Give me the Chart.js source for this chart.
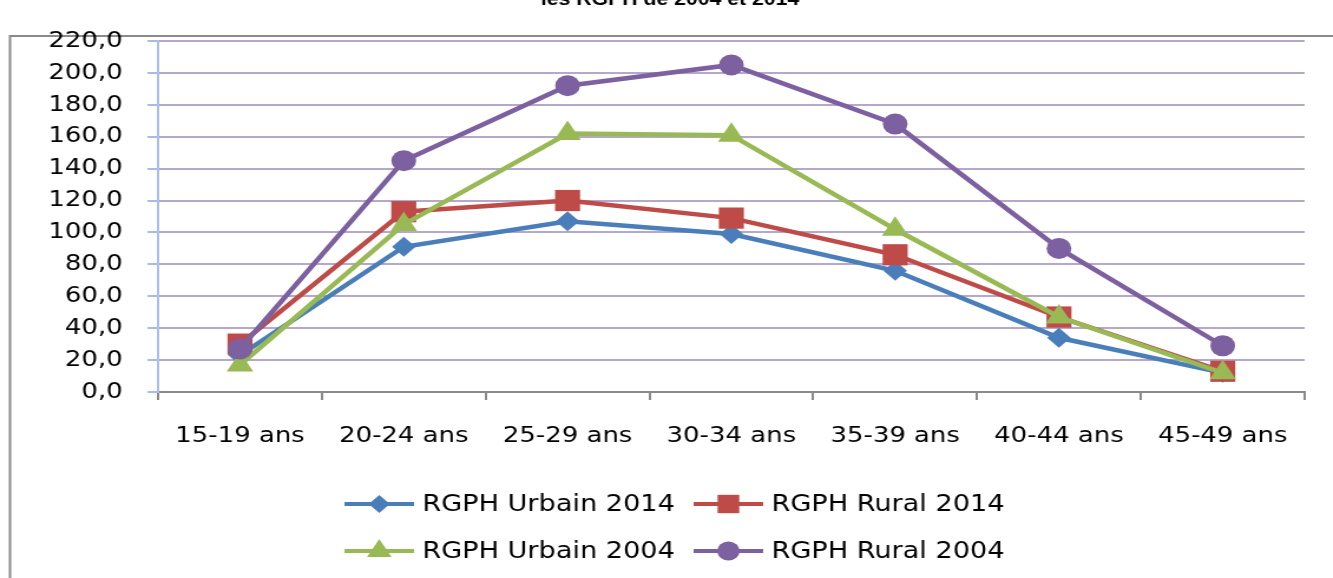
<!DOCTYPE html>
<html>
<head>
<meta charset="utf-8">
<script src="https://cdn.jsdelivr.net/npm/chart.js@4/dist/chart.umd.min.js"></script>
<style>
  html, body { margin: 0; padding: 0; background: #fff; overflow: hidden; }
  #wrap { width: 1333px; height: 578px; overflow: hidden; }
  /* the original picture is stretched sideways, so the canvas is too */
  #chart { display: block; transform: scaleX(1.1796); transform-origin: 0 0; }
</style>
</head>
<body>
<div id="wrap"><canvas id="chart" width="1130" height="578"></canvas></div>
<script>
var ageGroups = ['15-19 ans', '20-24 ans', '25-29 ans', '30-34 ans', '35-39 ans', '40-44 ans', '45-49 ans'];
var urbain2014 = [23, 91, 107, 99, 76, 34, 12];
var rural2014 = [30, 113, 120, 109, 86, 47, 13];
var urbain2004 = [17, 105, 162, 161, 102, 47, 12];
var rural2004 = [27, 145, 192, 205, 168, 90, 29];
var seriesNames = ['RGPH Urbain 2014', 'RGPH Rural 2014', 'RGPH Urbain 2004', 'RGPH Rural 2004'];
var titleText = 'les RGPH de 2004 et 2014';

var font = "'DejaVu Sans', Verdana, sans-serif";

function makeSet(name, values, color, style, radius, order) {
  return {
    label: name,
    data: values,
    borderColor: color,
    backgroundColor: color,
    borderWidth: 4.5,
    pointStyle: style,
    pointRadius: radius,
    pointHoverRadius: radius,
    pointBorderWidth: 0,
    tension: 0,
    order: order
  };
}

var frame = {
  id: 'frame',
  beforeDraw: function(chart) {
    var ctx = chart.ctx;
    ctx.save();
    ctx.strokeStyle = '#8a8a8a';
    ctx.lineWidth = 2;
    ctx.strokeRect(8.5, 36, 2000, 1000);
    ctx.restore();
  }
};

function marker(ctx, style, radius, x, y, color) {
  ctx.fillStyle = color;
  ctx.strokeStyle = color;
  if (Chart.helpers && Chart.helpers.drawPoint) {
    Chart.helpers.drawPoint(ctx, {pointStyle: style, radius: radius, rotation: 0, borderWidth: 0}, x, y);
    return;
  }
  ctx.beginPath();
  ctx.arc(x, y, radius, 0, Math.PI * 2);
  ctx.fill();
}

var legendGrid = {
  id: 'legendGrid',
  afterDraw: function(chart) {
    var ctx = chart.ctx;
    var cols = [292, 588];
    var rows = [504, 551];
    var sizes = [9, 13, 12, 9.5];
    ctx.save();
    chart.data.datasets.forEach(function(ds, i) {
      var x = cols[i % 2];
      var y = rows[Math.floor(i / 2)];
      ctx.strokeStyle = ds.borderColor;
      ctx.lineWidth = 4;
      ctx.beginPath();
      ctx.moveTo(x, y);
      ctx.lineTo(x + 59, y);
      ctx.stroke();
      marker(ctx, ds.pointStyle, sizes[i], x + 29.5, y, ds.borderColor);
      ctx.fillStyle = '#000';
      ctx.font = '23px ' + font;
      ctx.textBaseline = 'middle';
      ctx.textAlign = 'left';
      ctx.fillText(ds.label, x + 66, y + 1);
    });
    // title line, cut by the top edge like the original
    ctx.font = "bold 18px 'Liberation Sans', Arial, sans-serif";
    ctx.textAlign = 'center';
    ctx.textBaseline = 'alphabetic';
    ctx.fillText(titleText, 568, 5);
    ctx.restore();
  }
};

new Chart(document.getElementById('chart').getContext('2d'), {
  type: 'line',
  data: {
    labels: ageGroups,
    datasets: [
      makeSet(seriesNames[0], urbain2014, '#4a7ebb', 'rectRot', 10, 3),
      makeSet(seriesNames[1], rural2014, '#be4b48', 'rect', 15, 2),
      makeSet(seriesNames[2], urbain2004, '#98b954', 'triangle', 13, 1),
      makeSet(seriesNames[3], rural2004, '#7d60a0', 'circle', 10.5, 0)
    ]
  },
  options: {
    responsive: false,
    animation: false,
    layout: { padding: { left: 0, right: 24, top: 41, bottom: 0 } },
    plugins: {
      legend: { display: false },
      title: { display: false },
      tooltip: { enabled: false }
    },
    scales: {
      x: {
        offset: true,
        afterFit: function(scale) { scale.height = 186; },
        grid: {
          offset: true,
          drawOnChartArea: false,
          drawTicks: true,
          tickLength: 8,
          color: '#8a8a8a',
          lineWidth: 2
        },
        border: { display: true, color: '#8a8a8a', width: 2 },
        ticks: {
          color: '#000',
          font: { family: font, size: 22 },
          padding: 23,
          maxRotation: 0,
          autoSkip: false
        }
      },
      y: {
        min: 0,
        max: 220,
        afterFit: function(scale) { scale.width = 134; },
        grid: {
          color: '#b6a7cd',
          lineWidth: 2,
          tickLength: 9,
          tickColor: '#a6bde6'
        },
        border: { display: true, color: '#a9c0e8', width: 2 },
        ticks: {
          stepSize: 20,
          color: '#000',
          font: { family: font, size: 22 },
          padding: 21,
          callback: function(v) { return v.toFixed(1).replace('.', ','); }
        }
      }
    }
  },
  plugins: [frame, legendGrid]
});
</script>
</body>
</html>
